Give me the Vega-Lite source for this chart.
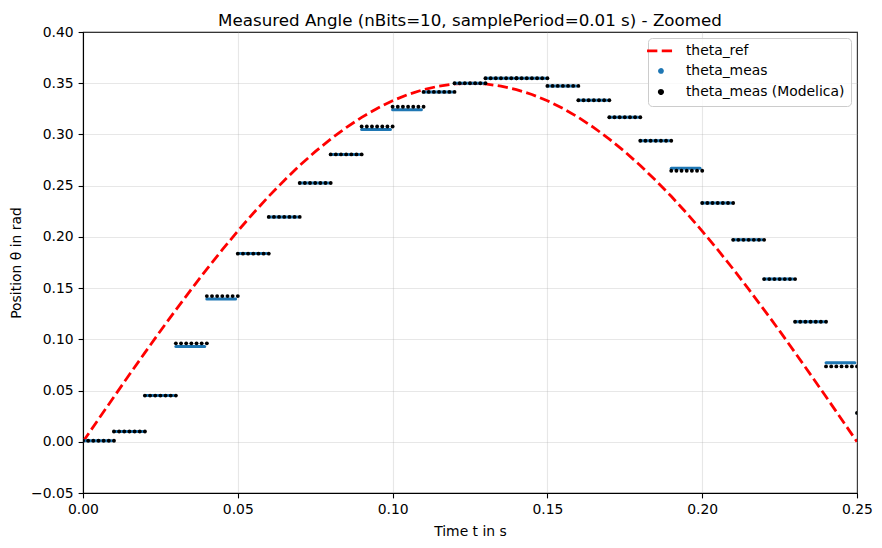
{
  "$schema": "https://vega.github.io/schema/vega-lite/v6.json",
  "width": 774,
  "height": 461,
  "autosize": "none",
  "padding": {"left": 83, "top": 32, "right": 25, "bottom": 55},
  "background": "white",
  "title": {
    "text": "Measured Angle (nBits=10, samplePeriod=0.01 s) - Zoomed",
    "font": "DejaVu Sans",
    "fontSize": 16.7,
    "fontWeight": "normal",
    "color": "black",
    "anchor": "middle",
    "frame": "group",
    "baseline": "bottom",
    "offset": 0,
    "dy": 22
  },
  "config": {
    "view": {"stroke": "black", "strokeWidth": 1.1},
    "axis": {
      "domainColor": "black",
      "domainWidth": 1.1,
      "tickColor": "black",
      "tickWidth": 1.1,
      "tickSize": 4.9,
      "labelFont": "DejaVu Sans",
      "labelFontSize": 13.9,
      "labelColor": "black",
      "labelPadding": 4.9,
      "labelFlush": false,
      "titleFont": "DejaVu Sans",
      "titleFontSize": 13.9,
      "titleFontWeight": "normal",
      "titleColor": "black",
      "gridColor": "#b0b0b0",
      "gridOpacity": 0.3,
      "gridWidth": 1.1
    }
  },
  "datasets": {
    "ref": [
      {"t": 0, "v": 0},
      {"t": 0.005, "v": 0.022},
      {"t": 0.01, "v": 0.0439},
      {"t": 0.015, "v": 0.0656},
      {"t": 0.02, "v": 0.087},
      {"t": 0.025, "v": 0.1082},
      {"t": 0.03, "v": 0.1288},
      {"t": 0.035, "v": 0.149},
      {"t": 0.04, "v": 0.1686},
      {"t": 0.045, "v": 0.1875},
      {"t": 0.05, "v": 0.2057},
      {"t": 0.055, "v": 0.2231},
      {"t": 0.06, "v": 0.2396},
      {"t": 0.065, "v": 0.2551},
      {"t": 0.07, "v": 0.2697},
      {"t": 0.075, "v": 0.2832},
      {"t": 0.08, "v": 0.2955},
      {"t": 0.085, "v": 0.3067},
      {"t": 0.09, "v": 0.3167},
      {"t": 0.095, "v": 0.3254},
      {"t": 0.1, "v": 0.3329},
      {"t": 0.105, "v": 0.339},
      {"t": 0.11, "v": 0.3438},
      {"t": 0.115, "v": 0.3472},
      {"t": 0.12, "v": 0.3493},
      {"t": 0.125, "v": 0.35},
      {"t": 0.13, "v": 0.3493},
      {"t": 0.135, "v": 0.3472},
      {"t": 0.14, "v": 0.3438},
      {"t": 0.145, "v": 0.339},
      {"t": 0.15, "v": 0.3329},
      {"t": 0.155, "v": 0.3254},
      {"t": 0.16, "v": 0.3167},
      {"t": 0.165, "v": 0.3067},
      {"t": 0.17, "v": 0.2955},
      {"t": 0.175, "v": 0.2832},
      {"t": 0.18, "v": 0.2697},
      {"t": 0.185, "v": 0.2551},
      {"t": 0.19, "v": 0.2396},
      {"t": 0.195, "v": 0.2231},
      {"t": 0.2, "v": 0.2057},
      {"t": 0.205, "v": 0.1875},
      {"t": 0.21, "v": 0.1686},
      {"t": 0.215, "v": 0.149},
      {"t": 0.22, "v": 0.1288},
      {"t": 0.225, "v": 0.1082},
      {"t": 0.23, "v": 0.087},
      {"t": 0.235, "v": 0.0656},
      {"t": 0.24, "v": 0.0439},
      {"t": 0.245, "v": 0.022},
      {"t": 0.25, "v": 0}
    ],
    "meas": [
      {"t0": 0.0, "t1": 0.0093, "v": 0.001},
      {"t0": 0.01, "t1": 0.0193, "v": 0.01},
      {"t0": 0.02, "t1": 0.0293, "v": 0.0451},
      {"t0": 0.03, "t1": 0.0393, "v": 0.0929},
      {"t0": 0.04, "t1": 0.0493, "v": 0.1393},
      {"t0": 0.05, "t1": 0.0593, "v": 0.1837},
      {"t0": 0.06, "t1": 0.0693, "v": 0.2195},
      {"t0": 0.07, "t1": 0.0793, "v": 0.2526},
      {"t0": 0.08, "t1": 0.0893, "v": 0.2805},
      {"t0": 0.09, "t1": 0.0993, "v": 0.3049},
      {"t0": 0.1, "t1": 0.1093, "v": 0.3241},
      {"t0": 0.11, "t1": 0.1193, "v": 0.3415},
      {"t0": 0.12, "t1": 0.1293, "v": 0.35},
      {"t0": 0.13, "t1": 0.1393, "v": 0.3549},
      {"t0": 0.14, "t1": 0.1493, "v": 0.3549},
      {"t0": 0.15, "t1": 0.1593, "v": 0.3474},
      {"t0": 0.16, "t1": 0.1693, "v": 0.3334},
      {"t0": 0.17, "t1": 0.1793, "v": 0.3168},
      {"t0": 0.18, "t1": 0.1893, "v": 0.2938},
      {"t0": 0.19, "t1": 0.1993, "v": 0.2669},
      {"t0": 0.2, "t1": 0.2093, "v": 0.2331},
      {"t0": 0.21, "t1": 0.2193, "v": 0.1971},
      {"t0": 0.22, "t1": 0.2293, "v": 0.1588},
      {"t0": 0.23, "t1": 0.2393, "v": 0.1172},
      {"t0": 0.24, "t1": 0.2493, "v": 0.0772},
      {"t0": 0.25, "t1": 0.2503, "v": 0.0282}
    ],
    "modelica": [
      {"t": 0.0, "v": 0.001}, {"t": 0.00167, "v": 0.001}, {"t": 0.00333, "v": 0.001}, {"t": 0.005, "v": 0.001}, {"t": 0.00667, "v": 0.001}, {"t": 0.00833, "v": 0.001}, {"t": 0.01, "v": 0.001},
      {"t": 0.01, "v": 0.01}, {"t": 0.01167, "v": 0.01}, {"t": 0.01333, "v": 0.01}, {"t": 0.015, "v": 0.01}, {"t": 0.01667, "v": 0.01}, {"t": 0.01833, "v": 0.01}, {"t": 0.02, "v": 0.01},
      {"t": 0.02, "v": 0.0451}, {"t": 0.02167, "v": 0.0451}, {"t": 0.02333, "v": 0.0451}, {"t": 0.025, "v": 0.0451}, {"t": 0.02667, "v": 0.0451}, {"t": 0.02833, "v": 0.0451}, {"t": 0.03, "v": 0.0451},
      {"t": 0.03, "v": 0.0961}, {"t": 0.03167, "v": 0.0961}, {"t": 0.03333, "v": 0.0961}, {"t": 0.035, "v": 0.0961}, {"t": 0.03667, "v": 0.0961}, {"t": 0.03833, "v": 0.0961}, {"t": 0.04, "v": 0.0961},
      {"t": 0.04, "v": 0.1422}, {"t": 0.04167, "v": 0.1422}, {"t": 0.04333, "v": 0.1422}, {"t": 0.045, "v": 0.1422}, {"t": 0.04667, "v": 0.1422}, {"t": 0.04833, "v": 0.1422}, {"t": 0.05, "v": 0.1422},
      {"t": 0.05, "v": 0.1837}, {"t": 0.05167, "v": 0.1837}, {"t": 0.05333, "v": 0.1837}, {"t": 0.055, "v": 0.1837}, {"t": 0.05667, "v": 0.1837}, {"t": 0.05833, "v": 0.1837}, {"t": 0.06, "v": 0.1837},
      {"t": 0.06, "v": 0.2195}, {"t": 0.06167, "v": 0.2195}, {"t": 0.06333, "v": 0.2195}, {"t": 0.065, "v": 0.2195}, {"t": 0.06667, "v": 0.2195}, {"t": 0.06833, "v": 0.2195}, {"t": 0.07, "v": 0.2195},
      {"t": 0.07, "v": 0.2526}, {"t": 0.07167, "v": 0.2526}, {"t": 0.07333, "v": 0.2526}, {"t": 0.075, "v": 0.2526}, {"t": 0.07667, "v": 0.2526}, {"t": 0.07833, "v": 0.2526}, {"t": 0.08, "v": 0.2526},
      {"t": 0.08, "v": 0.2805}, {"t": 0.08167, "v": 0.2805}, {"t": 0.08333, "v": 0.2805}, {"t": 0.085, "v": 0.2805}, {"t": 0.08667, "v": 0.2805}, {"t": 0.08833, "v": 0.2805}, {"t": 0.09, "v": 0.2805},
      {"t": 0.09, "v": 0.3078}, {"t": 0.09167, "v": 0.3078}, {"t": 0.09333, "v": 0.3078}, {"t": 0.095, "v": 0.3078}, {"t": 0.09667, "v": 0.3078}, {"t": 0.09833, "v": 0.3078}, {"t": 0.1, "v": 0.3078},
      {"t": 0.1, "v": 0.327}, {"t": 0.10167, "v": 0.327}, {"t": 0.10333, "v": 0.327}, {"t": 0.105, "v": 0.327}, {"t": 0.10667, "v": 0.327}, {"t": 0.10833, "v": 0.327}, {"t": 0.11, "v": 0.327},
      {"t": 0.11, "v": 0.3415}, {"t": 0.11167, "v": 0.3415}, {"t": 0.11333, "v": 0.3415}, {"t": 0.115, "v": 0.3415}, {"t": 0.11667, "v": 0.3415}, {"t": 0.11833, "v": 0.3415}, {"t": 0.12, "v": 0.3415},
      {"t": 0.12, "v": 0.35}, {"t": 0.12167, "v": 0.35}, {"t": 0.12333, "v": 0.35}, {"t": 0.125, "v": 0.35}, {"t": 0.12667, "v": 0.35}, {"t": 0.12833, "v": 0.35}, {"t": 0.13, "v": 0.35},
      {"t": 0.13, "v": 0.3549}, {"t": 0.13167, "v": 0.3549}, {"t": 0.13333, "v": 0.3549}, {"t": 0.135, "v": 0.3549}, {"t": 0.13667, "v": 0.3549}, {"t": 0.13833, "v": 0.3549}, {"t": 0.14, "v": 0.3549},
      {"t": 0.14, "v": 0.3549}, {"t": 0.14167, "v": 0.3549}, {"t": 0.14333, "v": 0.3549}, {"t": 0.145, "v": 0.3549}, {"t": 0.14667, "v": 0.3549}, {"t": 0.14833, "v": 0.3549}, {"t": 0.15, "v": 0.3549},
      {"t": 0.15, "v": 0.3474}, {"t": 0.15167, "v": 0.3474}, {"t": 0.15333, "v": 0.3474}, {"t": 0.155, "v": 0.3474}, {"t": 0.15667, "v": 0.3474}, {"t": 0.15833, "v": 0.3474}, {"t": 0.16, "v": 0.3474},
      {"t": 0.16, "v": 0.3334}, {"t": 0.16167, "v": 0.3334}, {"t": 0.16333, "v": 0.3334}, {"t": 0.165, "v": 0.3334}, {"t": 0.16667, "v": 0.3334}, {"t": 0.16833, "v": 0.3334}, {"t": 0.17, "v": 0.3334},
      {"t": 0.17, "v": 0.3168}, {"t": 0.17167, "v": 0.3168}, {"t": 0.17333, "v": 0.3168}, {"t": 0.175, "v": 0.3168}, {"t": 0.17667, "v": 0.3168}, {"t": 0.17833, "v": 0.3168}, {"t": 0.18, "v": 0.3168},
      {"t": 0.18, "v": 0.2938}, {"t": 0.18167, "v": 0.2938}, {"t": 0.18333, "v": 0.2938}, {"t": 0.185, "v": 0.2938}, {"t": 0.18667, "v": 0.2938}, {"t": 0.18833, "v": 0.2938}, {"t": 0.19, "v": 0.2938},
      {"t": 0.19, "v": 0.2646}, {"t": 0.19167, "v": 0.2646}, {"t": 0.19333, "v": 0.2646}, {"t": 0.195, "v": 0.2646}, {"t": 0.19667, "v": 0.2646}, {"t": 0.19833, "v": 0.2646}, {"t": 0.2, "v": 0.2646},
      {"t": 0.2, "v": 0.2331}, {"t": 0.20167, "v": 0.2331}, {"t": 0.20333, "v": 0.2331}, {"t": 0.205, "v": 0.2331}, {"t": 0.20667, "v": 0.2331}, {"t": 0.20833, "v": 0.2331}, {"t": 0.21, "v": 0.2331},
      {"t": 0.21, "v": 0.1971}, {"t": 0.21167, "v": 0.1971}, {"t": 0.21333, "v": 0.1971}, {"t": 0.215, "v": 0.1971}, {"t": 0.21667, "v": 0.1971}, {"t": 0.21833, "v": 0.1971}, {"t": 0.22, "v": 0.1971},
      {"t": 0.22, "v": 0.1588}, {"t": 0.22167, "v": 0.1588}, {"t": 0.22333, "v": 0.1588}, {"t": 0.225, "v": 0.1588}, {"t": 0.22667, "v": 0.1588}, {"t": 0.22833, "v": 0.1588}, {"t": 0.23, "v": 0.1588},
      {"t": 0.23, "v": 0.1172}, {"t": 0.23167, "v": 0.1172}, {"t": 0.23333, "v": 0.1172}, {"t": 0.235, "v": 0.1172}, {"t": 0.23667, "v": 0.1172}, {"t": 0.23833, "v": 0.1172}, {"t": 0.24, "v": 0.1172},
      {"t": 0.24, "v": 0.0736}, {"t": 0.24167, "v": 0.0736}, {"t": 0.24333, "v": 0.0736}, {"t": 0.245, "v": 0.0736}, {"t": 0.24667, "v": 0.0736}, {"t": 0.24833, "v": 0.0736}, {"t": 0.25, "v": 0.0736},
      {"t": 0.25, "v": 0.0282}
    ]
  },
  "encoding": {
    "x": {
      "type": "quantitative",
      "scale": {"domain": [0, 0.25], "nice": false, "zero": false},
      "axis": {
        "title": "Time t in s",
        "values": [0, 0.05, 0.1, 0.15, 0.2, 0.25],
        "format": ".2f",
        "titlePadding": 8
      }
    },
    "y": {
      "type": "quantitative",
      "scale": {"domain": [-0.05, 0.4], "nice": false, "zero": false},
      "axis": {
        "title": "Position θ in rad",
        "values": [-0.05, 0, 0.05, 0.1, 0.15, 0.2, 0.25, 0.3, 0.35, 0.4],
        "format": ".2f",
        "titlePadding": 7
      }
    }
  },
  "layer": [
    {
      "data": {"name": "ref"},
      "mark": {"type": "line", "strokeWidth": 2.78, "strokeDash": [10.3, 4.4], "clip": true},
      "encoding": {
        "x": {"field": "t", "type": "quantitative"},
        "y": {"field": "v", "type": "quantitative"},
        "color": {
          "datum": "theta_ref",
          "type": "nominal",
          "scale": {
            "domain": ["theta_ref", "theta_meas", "theta_meas (Modelica)"],
            "range": ["#ff0000", "#1f77b4", "#000000"]
          },
          "legend": {
            "title": null,
            "orient": "top-right",
            "offset": 6,
            "padding": 6,
            "fillColor": "rgba(255,255,255,0.8)",
            "strokeColor": "#cccccc",
            "cornerRadius": 4,
            "labelFont": "DejaVu Sans",
            "labelFontSize": 13.9,
            "labelColor": "black",
            "labelLimit": 300,
            "labelOffset": 18,
            "rowPadding": 5,
            "symbolType": "stroke",
            "symbolSize": 773,
            "symbolStrokeWidth": 2.78,
            "encode": {
              "symbols": {
                "update": {
                  "shape": {"signal": "datum.value === 'theta_ref' ? 'stroke' : 'circle'"},
                  "size": {"signal": "datum.value === 'theta_ref' ? 773 : (datum.value === 'theta_meas' ? 9 : 11)"},
                  "fill": {"signal": "datum.value === 'theta_ref' ? 'transparent' : (datum.value === 'theta_meas' ? '#1f77b4' : '#000000')"},
                  "stroke": {"signal": "datum.value === 'theta_ref' ? '#ff0000' : 'transparent'"},
                  "strokeWidth": {"value": 2.78},
                  "strokeDash": {"signal": "datum.value === 'theta_ref' ? [10.3, 4.4] : [1, 0]"},
                  "opacity": {"value": 1}
                }
              }
            }
          }
        }
      }
    },
    {
      "data": {"name": "meas"},
      "mark": {"type": "rule", "strokeWidth": 3, "strokeCap": "round", "clip": true},
      "encoding": {
        "x": {"field": "t0", "type": "quantitative"},
        "x2": {"field": "t1"},
        "y": {"field": "v", "type": "quantitative"},
        "color": {"datum": "theta_meas", "type": "nominal"}
      }
    },
    {
      "data": {"name": "modelica"},
      "mark": {"type": "circle", "size": 15, "opacity": 1, "clip": true},
      "encoding": {
        "x": {"field": "t", "type": "quantitative"},
        "y": {"field": "v", "type": "quantitative"},
        "color": {"datum": "theta_meas (Modelica)", "type": "nominal"}
      }
    }
  ]
}
